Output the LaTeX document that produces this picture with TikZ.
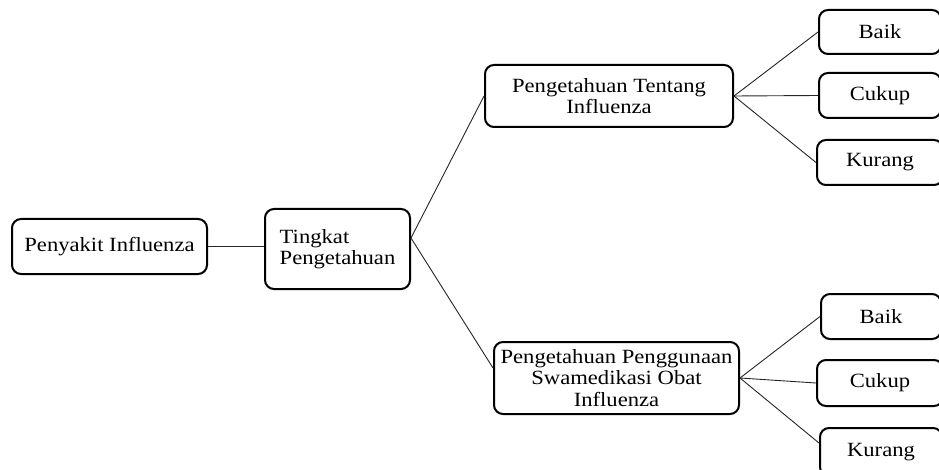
\documentclass[tikz,border=0pt]{standalone}
\usepackage{fontspec}
\setmainfont{Liberation Serif}[FakeStretch=1.12]
\usetikzlibrary{calc}
\begin{document}
\begin{tikzpicture}[x=1pt,y=-1pt,
  box/.style={draw=black, line width=2pt, rounded corners=9pt, inner sep=0pt,
    align=center, font=\fontsize{20.2}{21.5}\selectfont},
  link/.style={draw=black!85, line width=0.9pt}]
\useasboundingbox (0,0) rectangle (939,470);
\node[box, minimum width=195pt, minimum height=55pt] (pen) at (109.5,246.5) {Penyakit Influenza};
\node[box, minimum width=145pt, minimum height=80pt, align=left] (ting) at (337.5,249) {Tingkat\\Pengetahuan};
\node[box, minimum width=248pt, minimum height=62pt] (tent) at (609,96) {Pengetahuan Tentang\\Influenza};
\node[box, minimum width=245pt, minimum height=72pt] (swa) at (616.5,378) {Pengetahuan Penggunaan\\Swamedikasi Obat\\Influenza};
\node[box, minimum width=122pt, minimum height=44pt] (b1) at (880,32) {Baik};
\node[box, minimum width=122pt, minimum height=45pt] (c1) at (880,95.5) {Cukup};
\node[box, minimum width=126pt, minimum height=45pt] (k1) at (880,162.5) {Kurang};
\node[box, minimum width=120pt, minimum height=45pt] (b2) at (881,316.5) {Baik};
\node[box, minimum width=126pt, minimum height=46pt] (c2) at (880,383) {Cukup};
\node[box, minimum width=122pt, minimum height=48pt] (k2) at (881,452) {Kurang};
\coordinate (tout) at ($(ting.east)+(0,-11)$);
\coordinate (sin) at ($(swa.west)+(0,-10)$);
\coordinate (k2in) at ($(k2.west)+(0,-9)$);
\draw[link] (pen.east) -- (pen.east -| ting.west);
\draw[link] (tout) -- (tent.west);
\draw[link] (tout) -- (sin);
\draw[link] (tent.east) -- (b1.west);
\draw[link] (tent.east) -- (c1.west);
\draw[link] (tent.east) -- (k1.west);
\draw[link] (swa.east) -- (b2.west);
\draw[link] (swa.east) -- (c2.west);
\draw[link] (swa.east) -- (k2in);
\end{tikzpicture}
\end{document}
